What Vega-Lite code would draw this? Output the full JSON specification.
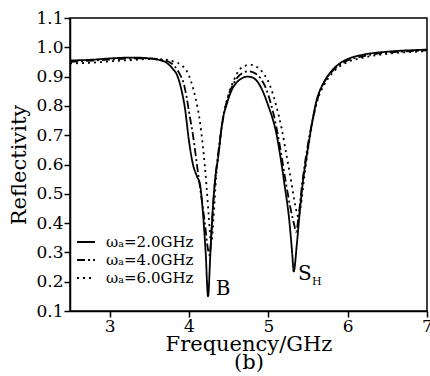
{
  "$schema": "https://vega.github.io/schema/vega-lite/v6.json",
  "width": 357,
  "height": 293,
  "autosize": "none",
  "padding": {"left": 70, "top": 18, "right": 3, "bottom": 65},
  "config": {
    "view": {"stroke": "black", "strokeWidth": 1.5},
    "font": "DejaVu Serif",
    "axis": {"domainColor": "black", "domainWidth": 1.5, "tickColor": "black", "tickWidth": 1.5, "labelColor": "black", "titleColor": "black", "labelFont": "DejaVu Serif", "titleFont": "DejaVu Serif", "labelFontSize": 17, "titleFontSize": 21, "titleFontWeight": "normal", "grid": false}
  },
  "datasets": {
    "curves": [
      {"f": 2.5, "r": 0.955, "s": "ωₐ=2.0GHz"},
      {"f": 2.8, "r": 0.958, "s": "ωₐ=2.0GHz"},
      {"f": 3.0, "r": 0.962, "s": "ωₐ=2.0GHz"},
      {"f": 3.3, "r": 0.965, "s": "ωₐ=2.0GHz"},
      {"f": 3.5, "r": 0.962, "s": "ωₐ=2.0GHz"},
      {"f": 3.6, "r": 0.958, "s": "ωₐ=2.0GHz"},
      {"f": 3.7, "r": 0.95, "s": "ωₐ=2.0GHz"},
      {"f": 3.75, "r": 0.94, "s": "ωₐ=2.0GHz"},
      {"f": 3.8, "r": 0.925, "s": "ωₐ=2.0GHz"},
      {"f": 3.85, "r": 0.905, "s": "ωₐ=2.0GHz"},
      {"f": 3.9, "r": 0.86, "s": "ωₐ=2.0GHz"},
      {"f": 3.95, "r": 0.79, "s": "ωₐ=2.0GHz"},
      {"f": 4.0, "r": 0.68, "s": "ωₐ=2.0GHz"},
      {"f": 4.05, "r": 0.6, "s": "ωₐ=2.0GHz"},
      {"f": 4.1, "r": 0.56, "s": "ωₐ=2.0GHz"},
      {"f": 4.14, "r": 0.53, "s": "ωₐ=2.0GHz"},
      {"f": 4.18, "r": 0.42, "s": "ωₐ=2.0GHz"},
      {"f": 4.21, "r": 0.3, "s": "ωₐ=2.0GHz"},
      {"f": 4.24, "r": 0.15, "s": "ωₐ=2.0GHz"},
      {"f": 4.27, "r": 0.3, "s": "ωₐ=2.0GHz"},
      {"f": 4.3, "r": 0.45, "s": "ωₐ=2.0GHz"},
      {"f": 4.33, "r": 0.55, "s": "ωₐ=2.0GHz"},
      {"f": 4.37, "r": 0.63, "s": "ωₐ=2.0GHz"},
      {"f": 4.42, "r": 0.745, "s": "ωₐ=2.0GHz"},
      {"f": 4.48, "r": 0.81, "s": "ωₐ=2.0GHz"},
      {"f": 4.54, "r": 0.855, "s": "ωₐ=2.0GHz"},
      {"f": 4.6, "r": 0.88, "s": "ωₐ=2.0GHz"},
      {"f": 4.66, "r": 0.893, "s": "ωₐ=2.0GHz"},
      {"f": 4.73, "r": 0.9, "s": "ωₐ=2.0GHz"},
      {"f": 4.8, "r": 0.897, "s": "ωₐ=2.0GHz"},
      {"f": 4.87, "r": 0.88, "s": "ωₐ=2.0GHz"},
      {"f": 4.93, "r": 0.85, "s": "ωₐ=2.0GHz"},
      {"f": 5.0, "r": 0.8, "s": "ωₐ=2.0GHz"},
      {"f": 5.05, "r": 0.76, "s": "ωₐ=2.0GHz"},
      {"f": 5.09, "r": 0.72, "s": "ωₐ=2.0GHz"},
      {"f": 5.15, "r": 0.63, "s": "ωₐ=2.0GHz"},
      {"f": 5.21, "r": 0.52, "s": "ωₐ=2.0GHz"},
      {"f": 5.26, "r": 0.42, "s": "ωₐ=2.0GHz"},
      {"f": 5.3, "r": 0.3, "s": "ωₐ=2.0GHz"},
      {"f": 5.32, "r": 0.235, "s": "ωₐ=2.0GHz"},
      {"f": 5.36, "r": 0.33, "s": "ωₐ=2.0GHz"},
      {"f": 5.4, "r": 0.45, "s": "ωₐ=2.0GHz"},
      {"f": 5.44, "r": 0.55, "s": "ωₐ=2.0GHz"},
      {"f": 5.49, "r": 0.64, "s": "ωₐ=2.0GHz"},
      {"f": 5.55, "r": 0.74, "s": "ωₐ=2.0GHz"},
      {"f": 5.6, "r": 0.81, "s": "ωₐ=2.0GHz"},
      {"f": 5.7, "r": 0.88, "s": "ωₐ=2.0GHz"},
      {"f": 5.8, "r": 0.92, "s": "ωₐ=2.0GHz"},
      {"f": 5.9, "r": 0.945, "s": "ωₐ=2.0GHz"},
      {"f": 6.0, "r": 0.96, "s": "ωₐ=2.0GHz"},
      {"f": 6.2, "r": 0.975, "s": "ωₐ=2.0GHz"},
      {"f": 6.5, "r": 0.985, "s": "ωₐ=2.0GHz"},
      {"f": 6.8, "r": 0.99, "s": "ωₐ=2.0GHz"},
      {"f": 7.0, "r": 0.992, "s": "ωₐ=2.0GHz"},

      {"f": 2.5, "r": 0.95, "s": "ωₐ=4.0GHz"},
      {"f": 2.8, "r": 0.955, "s": "ωₐ=4.0GHz"},
      {"f": 3.0, "r": 0.958, "s": "ωₐ=4.0GHz"},
      {"f": 3.3, "r": 0.962, "s": "ωₐ=4.0GHz"},
      {"f": 3.5, "r": 0.962, "s": "ωₐ=4.0GHz"},
      {"f": 3.65, "r": 0.958, "s": "ωₐ=4.0GHz"},
      {"f": 3.75, "r": 0.95, "s": "ωₐ=4.0GHz"},
      {"f": 3.82, "r": 0.935, "s": "ωₐ=4.0GHz"},
      {"f": 3.88, "r": 0.91, "s": "ωₐ=4.0GHz"},
      {"f": 3.93, "r": 0.88, "s": "ωₐ=4.0GHz"},
      {"f": 3.97, "r": 0.83, "s": "ωₐ=4.0GHz"},
      {"f": 4.0, "r": 0.78, "s": "ωₐ=4.0GHz"},
      {"f": 4.05, "r": 0.7, "s": "ωₐ=4.0GHz"},
      {"f": 4.1, "r": 0.6, "s": "ωₐ=4.0GHz"},
      {"f": 4.15, "r": 0.5, "s": "ωₐ=4.0GHz"},
      {"f": 4.2, "r": 0.4, "s": "ωₐ=4.0GHz"},
      {"f": 4.24, "r": 0.31, "s": "ωₐ=4.0GHz"},
      {"f": 4.26, "r": 0.29, "s": "ωₐ=4.0GHz"},
      {"f": 4.29, "r": 0.4, "s": "ωₐ=4.0GHz"},
      {"f": 4.32, "r": 0.52, "s": "ωₐ=4.0GHz"},
      {"f": 4.36, "r": 0.62, "s": "ωₐ=4.0GHz"},
      {"f": 4.42, "r": 0.74, "s": "ωₐ=4.0GHz"},
      {"f": 4.48, "r": 0.82, "s": "ωₐ=4.0GHz"},
      {"f": 4.55, "r": 0.87, "s": "ωₐ=4.0GHz"},
      {"f": 4.62, "r": 0.9, "s": "ωₐ=4.0GHz"},
      {"f": 4.68, "r": 0.913, "s": "ωₐ=4.0GHz"},
      {"f": 4.75, "r": 0.918, "s": "ωₐ=4.0GHz"},
      {"f": 4.82, "r": 0.913, "s": "ωₐ=4.0GHz"},
      {"f": 4.9, "r": 0.895, "s": "ωₐ=4.0GHz"},
      {"f": 4.97, "r": 0.86, "s": "ωₐ=4.0GHz"},
      {"f": 5.03, "r": 0.81, "s": "ωₐ=4.0GHz"},
      {"f": 5.1, "r": 0.73, "s": "ωₐ=4.0GHz"},
      {"f": 5.16, "r": 0.64, "s": "ωₐ=4.0GHz"},
      {"f": 5.22, "r": 0.54, "s": "ωₐ=4.0GHz"},
      {"f": 5.28, "r": 0.45, "s": "ωₐ=4.0GHz"},
      {"f": 5.33, "r": 0.39, "s": "ωₐ=4.0GHz"},
      {"f": 5.35, "r": 0.37, "s": "ωₐ=4.0GHz"},
      {"f": 5.38, "r": 0.42, "s": "ωₐ=4.0GHz"},
      {"f": 5.42, "r": 0.52, "s": "ωₐ=4.0GHz"},
      {"f": 5.47, "r": 0.62, "s": "ωₐ=4.0GHz"},
      {"f": 5.52, "r": 0.7, "s": "ωₐ=4.0GHz"},
      {"f": 5.58, "r": 0.78, "s": "ωₐ=4.0GHz"},
      {"f": 5.65, "r": 0.85, "s": "ωₐ=4.0GHz"},
      {"f": 5.75, "r": 0.9, "s": "ωₐ=4.0GHz"},
      {"f": 5.85, "r": 0.93, "s": "ωₐ=4.0GHz"},
      {"f": 6.0, "r": 0.955, "s": "ωₐ=4.0GHz"},
      {"f": 6.2, "r": 0.97, "s": "ωₐ=4.0GHz"},
      {"f": 6.5, "r": 0.982, "s": "ωₐ=4.0GHz"},
      {"f": 6.8, "r": 0.987, "s": "ωₐ=4.0GHz"},
      {"f": 7.0, "r": 0.99, "s": "ωₐ=4.0GHz"},

      {"f": 2.5, "r": 0.945, "s": "ωₐ=6.0GHz"},
      {"f": 2.8, "r": 0.948, "s": "ωₐ=6.0GHz"},
      {"f": 3.0, "r": 0.952, "s": "ωₐ=6.0GHz"},
      {"f": 3.3, "r": 0.957, "s": "ωₐ=6.0GHz"},
      {"f": 3.5, "r": 0.96, "s": "ωₐ=6.0GHz"},
      {"f": 3.7, "r": 0.958, "s": "ωₐ=6.0GHz"},
      {"f": 3.8, "r": 0.952, "s": "ωₐ=6.0GHz"},
      {"f": 3.9, "r": 0.94, "s": "ωₐ=6.0GHz"},
      {"f": 3.97, "r": 0.92, "s": "ωₐ=6.0GHz"},
      {"f": 4.03, "r": 0.88, "s": "ωₐ=6.0GHz"},
      {"f": 4.08, "r": 0.83, "s": "ωₐ=6.0GHz"},
      {"f": 4.13, "r": 0.76, "s": "ωₐ=6.0GHz"},
      {"f": 4.18, "r": 0.65, "s": "ωₐ=6.0GHz"},
      {"f": 4.22, "r": 0.53, "s": "ωₐ=6.0GHz"},
      {"f": 4.25, "r": 0.42, "s": "ωₐ=6.0GHz"},
      {"f": 4.28, "r": 0.33, "s": "ωₐ=6.0GHz"},
      {"f": 4.31, "r": 0.42, "s": "ωₐ=6.0GHz"},
      {"f": 4.34, "r": 0.55, "s": "ωₐ=6.0GHz"},
      {"f": 4.38, "r": 0.66, "s": "ωₐ=6.0GHz"},
      {"f": 4.43, "r": 0.76, "s": "ωₐ=6.0GHz"},
      {"f": 4.5, "r": 0.84, "s": "ωₐ=6.0GHz"},
      {"f": 4.57, "r": 0.89, "s": "ωₐ=6.0GHz"},
      {"f": 4.64, "r": 0.925, "s": "ωₐ=6.0GHz"},
      {"f": 4.72, "r": 0.938, "s": "ωₐ=6.0GHz"},
      {"f": 4.79, "r": 0.94, "s": "ωₐ=6.0GHz"},
      {"f": 4.86, "r": 0.932, "s": "ωₐ=6.0GHz"},
      {"f": 4.94, "r": 0.91, "s": "ωₐ=6.0GHz"},
      {"f": 5.02, "r": 0.87, "s": "ωₐ=6.0GHz"},
      {"f": 5.1, "r": 0.8, "s": "ωₐ=6.0GHz"},
      {"f": 5.17, "r": 0.72, "s": "ωₐ=6.0GHz"},
      {"f": 5.23, "r": 0.63, "s": "ωₐ=6.0GHz"},
      {"f": 5.29, "r": 0.54, "s": "ωₐ=6.0GHz"},
      {"f": 5.34, "r": 0.46, "s": "ωₐ=6.0GHz"},
      {"f": 5.38, "r": 0.42, "s": "ωₐ=6.0GHz"},
      {"f": 5.41, "r": 0.46, "s": "ωₐ=6.0GHz"},
      {"f": 5.45, "r": 0.55, "s": "ωₐ=6.0GHz"},
      {"f": 5.5, "r": 0.65, "s": "ωₐ=6.0GHz"},
      {"f": 5.56, "r": 0.75, "s": "ωₐ=6.0GHz"},
      {"f": 5.62, "r": 0.82, "s": "ωₐ=6.0GHz"},
      {"f": 5.7, "r": 0.87, "s": "ωₐ=6.0GHz"},
      {"f": 5.8, "r": 0.91, "s": "ωₐ=6.0GHz"},
      {"f": 5.9, "r": 0.935, "s": "ωₐ=6.0GHz"},
      {"f": 6.0, "r": 0.95, "s": "ωₐ=6.0GHz"},
      {"f": 6.2, "r": 0.965, "s": "ωₐ=6.0GHz"},
      {"f": 6.5, "r": 0.978, "s": "ωₐ=6.0GHz"},
      {"f": 6.8, "r": 0.984, "s": "ωₐ=6.0GHz"},
      {"f": 7.0, "r": 0.987, "s": "ωₐ=6.0GHz"}
    ],
    "labels": [
      {"f": 4.43, "r": 0.175, "t": "B", "sz": 20},
      {"f": 5.46, "r": 0.225, "t": "S", "sz": 20},
      {"f": 5.61, "r": 0.198, "t": "H", "sz": 11}
    ]
  },
  "encoding": {
    "x": {"field": "f", "type": "quantitative", "scale": {"domain": [2.5, 7], "nice": false},
      "axis": {"title": ["Frequency/GHz", "(b)"], "values": [3, 4, 5, 6, 7], "format": "d", "tickSize": 6, "labelPadding": 1, "titlePadding": -1, "titleLineHeight": 18, "labelFlush": false, "labelOverlap": false}},
    "y": {"field": "r", "type": "quantitative", "scale": {"domain": [0.1, 1.1], "nice": false, "zero": false},
      "axis": {"title": "Reflectivity", "values": [0.1, 0.2, 0.3, 0.4, 0.5, 0.6, 0.7, 0.8, 0.9, 1.0, 1.1], "format": ".1f", "tickSize": 6, "labelPadding": 1, "titlePadding": 6, "labelFlush": false, "labelOverlap": false}}
  },
  "layer": [
    {
      "data": {"name": "curves"},
      "mark": {"type": "line", "color": "black", "strokeWidth": 1.8, "interpolate": "monotone"},
      "encoding": {
        "strokeDash": {"field": "s", "type": "nominal",
          "scale": {"domain": ["ωₐ=2.0GHz", "ωₐ=4.0GHz", "ωₐ=6.0GHz"], "range": [[1, 0], [8, 3, 2, 3], [2, 4]]},
          "legend": {"title": null, "orient": "none", "legendX": 6, "legendY": 214, "symbolType": "stroke", "symbolSize": 320, "symbolStrokeWidth": 1.8, "symbolStrokeColor": "black", "labelFont": "DejaVu Serif", "labelFontSize": 15, "labelColor": "black", "rowPadding": -5, "labelOffset": 10}}
      }
    },
    {
      "data": {"name": "labels"},
      "mark": {"type": "text", "color": "black", "font": "DejaVu Serif"},
      "encoding": {
        "text": {"field": "t"},
        "size": {"field": "sz", "type": "quantitative", "scale": null}
      }
    }
  ]
}
